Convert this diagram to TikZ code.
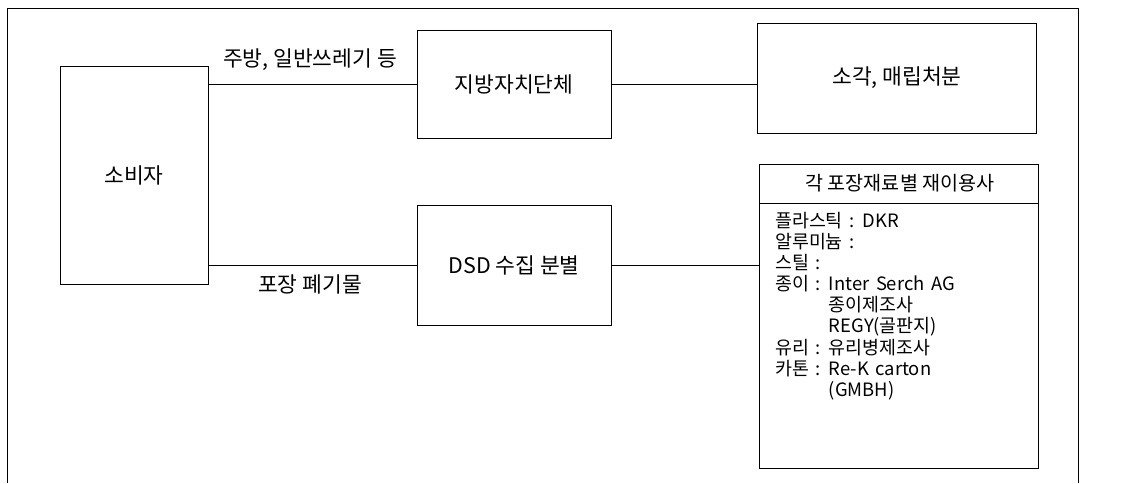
\documentclass[tikz,border=0pt]{standalone}
\usepackage{fontspec}
\setmainfont{Noto Sans CJK KR}
\begin{document}
\begin{tikzpicture}[x=1pt,y=-1pt,
  box/.style={draw,line width=0.8pt,inner sep=0pt,font=\fontsize{21.5}{25}\selectfont},
  lbl/.style={font=\fontsize{21.5}{25}\selectfont,inner sep=0pt},
  conn/.style={line width=0.8pt},
  body/.style={font=\fontsize{18.4}{21.1}\selectfont,align=left,inner sep=0pt}]
\useasboundingbox (0,0) rectangle (1125,483);
\draw[line width=0.8pt] (7,483) -- (7,8) -- (1078,8) -- (1078,483);
\node[box,minimum width=148pt,minimum height=218pt] (cons) at (134,175) {소비자};
\node[box,minimum width=194pt,minimum height=108pt] (jib) at (514,84) {지방자치단체};
\node[box,minimum width=279pt,minimum height=110pt] (sogak) at (897,78) {소각, 매립처분};
\node[box,minimum width=194pt,minimum height=120pt] (dsd) at (514,265) {DSD 수집 분별};
\node[box,minimum width=279pt,minimum height=304pt] (reuse) at (898.5,316) {};
\coordinate (hl) at (759,203);
\coordinate (hr) at (1038,203);
\draw[conn] (hl) -- (hr);
\node[lbl,font=\fontsize{19.6}{22}\selectfont] (head) at (900,183) {각 포장재료별 재이용사};
\node[body,anchor=north west] (list) at (775,212) {\spaceskip=0.36em\relax 플라스틱 : DKR\\
\spaceskip=0.36em\relax 알루미늄 :\\
\spaceskip=0.36em\relax 스틸 :\\
\spaceskip=0.36em\relax 종이 : Inter Serch AG\\
\spaceskip=0.36em\relax \phantom{종이 : }종이제조사\\
\spaceskip=0.36em\relax \phantom{종이 : }REGY(골판지)\\
\spaceskip=0.36em\relax 유리 : 유리병제조사\\
\spaceskip=0.36em\relax 카톤 : Re-K carton\\
\spaceskip=0.36em\relax \phantom{카톤 : }(GMBH)};
\draw[conn] (jib.west) -- (jib.west -| cons.east);
\draw[conn] (dsd.west) -- (dsd.west -| cons.east);
\draw[conn] (jib.east) -- (jib.east -| sogak.west);
\draw[conn] (dsd.east) -- (dsd.east -| reuse.west);
\node[lbl] (l1) at (310,60) {주방, 일반쓰레기 등};
\node[lbl] (l2) at (310,284) {포장 폐기물};
\end{tikzpicture}
\end{document}
